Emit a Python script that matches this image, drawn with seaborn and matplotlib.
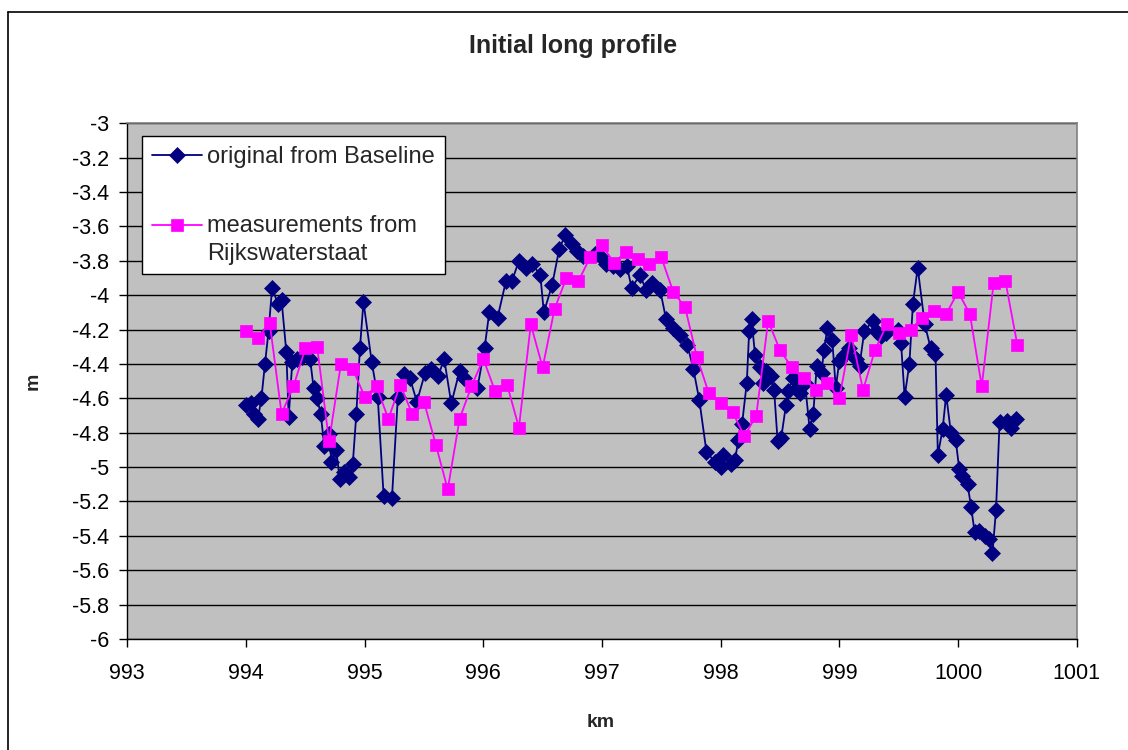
import numpy as np
import pandas as pd
import matplotlib
matplotlib.use("Agg")
import matplotlib.pyplot as plt
import seaborn as sns
from matplotlib.lines import Line2D
from matplotlib.legend_handler import HandlerLine2D
from matplotlib.ticker import FuncFormatter, MultipleLocator

# ---------------- data ----------------
navy_km = [994.00, 994.04, 994.07, 994.10, 994.13, 994.16, 994.19, 994.22, 994.27, 994.30,
           994.34, 994.36, 994.39, 994.43, 994.47, 994.54, 994.57, 994.60, 994.63, 994.66,
           994.70, 994.72, 994.76, 994.79, 994.83, 994.87, 994.90, 994.93, 994.96, 994.99,
           995.06, 995.11, 995.16, 995.23, 995.28, 995.33, 995.38, 995.44, 995.51, 995.56,
           995.62, 995.67, 995.73, 995.80, 995.84, 995.95, 996.01, 996.05, 996.12, 996.19,
           996.24, 996.30, 996.36, 996.41, 996.48, 996.51, 996.58, 996.64, 996.69, 996.75,
           996.79, 996.84, 996.94, 996.98, 997.03, 997.09, 997.15, 997.21, 997.25, 997.32,
           997.37, 997.42, 997.49, 997.54, 997.60, 997.66, 997.72, 997.77, 997.82, 997.88,
           997.95, 998.00, 998.02, 998.09, 998.12, 998.15, 998.18, 998.22, 998.24, 998.26,
           998.29, 998.33, 998.36, 998.38, 998.42, 998.45, 998.48, 998.51, 998.55, 998.57,
           998.61, 998.64, 998.67, 998.71, 998.75, 998.78, 998.81, 998.85, 998.87, 998.90,
           998.94, 998.97, 999.00, 999.04, 999.08, 999.14, 999.17, 999.21, 999.28, 999.31,
           999.35, 999.39, 999.49, 999.52, 999.55, 999.59, 999.62, 999.66, 999.72, 999.77,
           999.81, 999.83, 999.87, 999.90, 999.94, 999.98, 1000.01, 1000.03, 1000.08, 1000.11,
           1000.14, 1000.18, 1000.23, 1000.26, 1000.29, 1000.32, 1000.35, 1000.41, 1000.45, 1000.49]
navy_m = [-4.64, -4.63, -4.69, -4.72, -4.60, -4.40, -4.21, -3.96, -4.05, -4.03,
          -4.33, -4.71, -4.39, -4.37, -4.36, -4.37, -4.54, -4.60, -4.69, -4.88,
          -4.81, -4.97, -4.90, -5.07, -5.03, -5.06, -4.98, -4.69, -4.31, -4.04,
          -4.39, -4.59, -5.17, -5.18, -4.59, -4.46, -4.48, -4.62, -4.45, -4.43,
          -4.47, -4.37, -4.63, -4.44, -4.48, -4.54, -4.31, -4.10, -4.13, -3.92,
          -3.92, -3.80, -3.84, -3.82, -3.88, -4.10, -3.94, -3.73, -3.65, -3.70,
          -3.74, -3.77, -3.76, -3.77, -3.82, -3.83, -3.85, -3.83, -3.96, -3.88,
          -3.97, -3.93, -3.97, -4.14, -4.19, -4.23, -4.29, -4.43, -4.61, -4.91,
          -4.97, -5.00, -4.93, -4.98, -4.96, -4.84, -4.75, -4.51, -4.21, -4.14,
          -4.35, -4.42, -4.51, -4.44, -4.47, -4.55, -4.85, -4.83, -4.64, -4.56,
          -4.48, -4.54, -4.57, -4.51, -4.78, -4.69, -4.41, -4.45, -4.32, -4.19,
          -4.26, -4.54, -4.38, -4.35, -4.31, -4.37, -4.41, -4.21, -4.15, -4.21,
          -4.24, -4.22, -4.20, -4.28, -4.59, -4.40, -4.05, -3.84, -4.17, -4.31,
          -4.34, -4.93, -4.78, -4.58, -4.80, -4.84, -5.01, -5.05, -5.10, -5.23,
          -5.38, -5.37, -5.40, -5.42, -5.50, -5.25, -4.74, -4.73, -4.77, -4.72]

pink_km = [994.0, 994.1, 994.2, 994.3, 994.4, 994.5, 994.6, 994.7, 994.8, 994.9,
           995.0, 995.1, 995.2, 995.3, 995.4, 995.5, 995.6, 995.7, 995.8, 995.9,
           996.0, 996.1, 996.2, 996.3, 996.4, 996.5, 996.6, 996.7, 996.8, 996.9,
           997.0, 997.1, 997.2, 997.3, 997.4, 997.5, 997.6, 997.7, 997.8, 997.9,
           998.0, 998.1, 998.2, 998.3, 998.4, 998.5, 998.6, 998.7, 998.8, 998.9,
           999.0, 999.1, 999.2, 999.3, 999.4, 999.5, 999.6, 999.7, 999.8, 999.9,
           1000.0, 1000.1, 1000.2, 1000.3, 1000.4, 1000.5]
pink_m = [-4.21, -4.25, -4.16, -4.69, -4.53, -4.31, -4.30, -4.85, -4.40, -4.43,
          -4.59, -4.53, -4.72, -4.52, -4.69, -4.62, -4.87, -5.13, -4.72, -4.53,
          -4.37, -4.56, -4.52, -4.77, -4.17, -4.42, -4.08, -3.90, -3.92, -3.78,
          -3.71, -3.81, -3.75, -3.79, -3.82, -3.78, -3.98, -4.07, -4.36, -4.57,
          -4.63, -4.68, -4.82, -4.70, -4.15, -4.32, -4.42, -4.48, -4.55, -4.51,
          -4.60, -4.23, -4.55, -4.32, -4.17, -4.22, -4.20, -4.13, -4.09, -4.11,
          -3.98, -4.11, -4.53, -3.93, -3.92, -4.29]

navy_label = "original from Baseline"
pink_label = "measurements from\nRijkswaterstaat"
title = "Initial long profile"
x_label = "km"
y_label = "m"

# ---------------- style ----------------
sns.set_style("white")
plt.rcParams["font.family"] = ["Liberation Sans", "DejaVu Sans"]
plt.rcParams["axes.unicode_minus"] = False

W, H = 1128, 750
fig = plt.figure(figsize=(W / 100, H / 100), dpi=100)
fig.patch.set_facecolor("white")
L, R, T, B = 127.3, 1076.7, 123.3, 639.0
ax = fig.add_axes([L / W, 1 - B / H, (R - L) / W, (B - T) / H])
ax.set_facecolor("#C0C0C0")

navy = "#000080"
pink = "#FF00FF"

df_navy = pd.DataFrame({"km": navy_km, "m": navy_m})
df_pink = pd.DataFrame({"km": pink_km, "m": pink_m})

sns.lineplot(data=df_navy, x="km", y="m", ax=ax, color=navy, linewidth=1.3,
             marker="D", markersize=8.3, markeredgecolor=navy, markerfacecolor=navy,
             markeredgewidth=0.5, sort=False, label=navy_label, zorder=3)
sns.lineplot(data=df_pink, x="km", y="m", ax=ax, color=pink, linewidth=1.3,
             marker="s", markersize=8, markeredgecolor=pink, markerfacecolor=pink,
             markeredgewidth=0.5, sort=False, label=pink_label, zorder=4)

ax.set_xlim(993, 1001)
ax.set_ylim(-6, -3)
ax.xaxis.set_major_locator(MultipleLocator(1))
ax.yaxis.set_major_locator(MultipleLocator(0.2))
ax.xaxis.set_major_formatter(FuncFormatter(lambda v, p: f"{v:.0f}"))
ax.yaxis.set_major_formatter(FuncFormatter(
    lambda v, p: f"{round(v):d}" if abs(v - round(v)) < 1e-9 else f"{v:.1f}"))

ax.grid(axis="y", color="black", linewidth=1.0, zorder=1)
ax.grid(axis="x", visible=False)
ax.set_axisbelow(True)

for s in ["top", "right"]:
    ax.spines[s].set_color("#808080")
    ax.spines[s].set_linewidth(1.2)
for s in ["left", "bottom"]:
    ax.spines[s].set_color("black")
    ax.spines[s].set_linewidth(1.0)

ax.tick_params(axis="both", which="major", direction="out", length=6, width=1,
               color="black", labelsize=15.5, labelcolor="black")
ax.tick_params(axis="x", pad=11)
ax.tick_params(axis="y", pad=7)
ax.tick_params(left=True, bottom=True)

ax.set_xlabel(x_label, fontsize=14, fontweight="bold")
ax.set_ylabel(y_label, fontsize=14, fontweight="bold")
ax.xaxis.set_label_coords((601 - L) / (R - L), (B - 714) / (B - T))
ax.yaxis.set_label_coords((42 - L) / (R - L), 0.5)

fig.text(573 / W, 1 - 46 / H, title, ha="center", va="center",
         fontsize=18, fontweight="bold")


class TopAlignedHandler(HandlerLine2D):
    """Place the legend handle next to the first line of a two-line label."""
    def __init__(self, shift_pt=0.0, **kw):
        super().__init__(**kw)
        self.shift_pt = shift_pt

    def create_artists(self, legend, orig_handle, xdescent, ydescent,
                       width, height, fontsize, trans):
        return super().create_artists(legend, orig_handle, xdescent,
                                      ydescent - 2 * self.shift_pt,
                                      width, height, fontsize, trans)


handles, labels = ax.get_legend_handles_labels()
leg = ax.legend(handles, labels, loc="upper left",
                bbox_to_anchor=((142 - L) / (R - L), (B - 136) / (B - T)),
                borderaxespad=0, fontsize=17, frameon=True, fancybox=False, shadow=False,
                labelspacing=2.0, handlelength=2.1, handletextpad=0.25, borderpad=0.42,
                handler_map={handles[1]: TopAlignedHandler(shift_pt=11.2)})
leg.get_texts()[1].set_linespacing(1.32)
leg.get_frame().set_edgecolor("black")
leg.get_frame().set_linewidth(1.0)
leg.get_frame().set_facecolor("white")
leg.get_frame().set_alpha(1)

# outer chart border (top and left visible in reference)
fig.add_artist(Line2D([7.5 / W, 7.5 / W], [0, 1 - 11.5 / H], transform=fig.transFigure,
                      color="black", linewidth=1.2))
fig.add_artist(Line2D([7.5 / W, 1], [1 - 11.5 / H, 1 - 11.5 / H], transform=fig.transFigure,
                      color="black", linewidth=1.2))

fig.savefig("out.png", dpi=100, facecolor="white")
